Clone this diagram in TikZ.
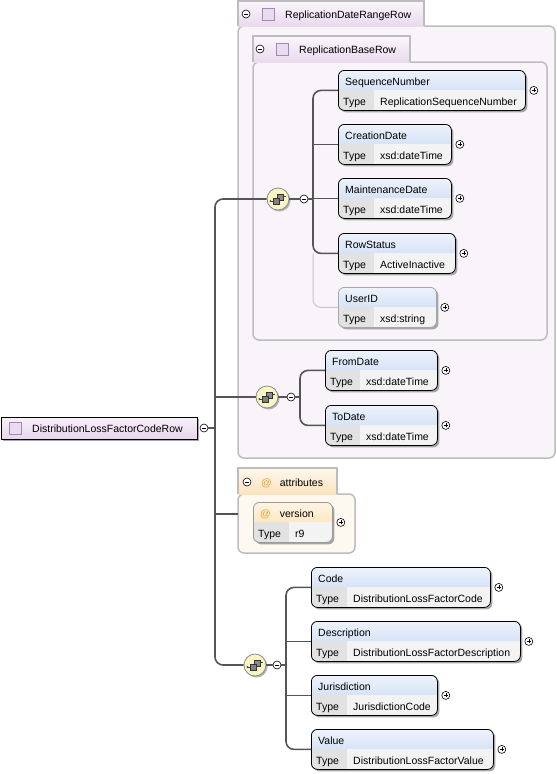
\documentclass[tikz,border=0pt]{standalone}
\usepackage{fontspec}
\setmainfont{Liberation Sans}
\usetikzlibrary{shadows}

\definecolor{linegray}{HTML}{555555}
\definecolor{hdtop}{HTML}{EEF3FC}
\definecolor{hdbot}{HTML}{BDD2F0}
\definecolor{typecell}{HTML}{E2E2E2}
\definecolor{typeval}{HTML}{F3F3F3}
\definecolor{compfill}{HTML}{F9F5C4}
\definecolor{grpfill}{HTML}{F8F4F9}
\definecolor{grptabtop}{HTML}{FBF6FB}
\definecolor{grptabbot}{HTML}{E9DAEE}
\definecolor{grpline}{HTML}{BDBDBD}
\definecolor{iconfill}{HTML}{EADCF0}
\definecolor{iconline}{HTML}{A586B5}
\definecolor{attfill}{HTML}{FDF9F0}
\definecolor{atttabtop}{HTML}{FFF8EC}
\definecolor{atttabbot}{HTML}{FBE3BF}
\definecolor{athdtop}{HTML}{FFF4E2}
\definecolor{athdbot}{HTML}{FCDCA8}
\definecolor{atorange}{HTML}{F0A030}
\definecolor{roottop}{HTML}{F8F1F9}
\definecolor{rootbot}{HTML}{E6D5EB}

\tikzset{
  lbl/.style={inner sep=0pt, anchor=base west, font=\fontsize{10.5}{12}\selectfont},
  conn/.style={draw=linegray, line width=1.6pt},
  optconn/.style={draw=black!22, line width=1pt},
  hd/.style={top color=hdtop, bottom color=hdbot},
  boxshadow/.style={drop shadow={shadow xshift=2pt, shadow yshift=-2pt, fill=black!35, opacity=1}},
  elembox/.style={rounded corners=6pt, minimum height=40pt, inner sep=0pt,
    anchor=north west, line width=0.8pt, boxshadow},
  pm/.style={circle, draw, fill=white, minimum size=8pt, inner sep=0pt, line width=0.6pt},
  plusc/.style={pm, path picture={
    \draw[line width=0.6pt] ([xshift=-2pt]path picture bounding box.center) -- ([xshift=2pt]path picture bounding box.center)
      ([yshift=-2pt]path picture bounding box.center) -- ([yshift=2pt]path picture bounding box.center);}},
  minusc/.style={pm, path picture={
    \draw[line width=0.6pt] ([xshift=-2pt]path picture bounding box.center) -- ([xshift=2pt]path picture bounding box.center);}},
  compo/.style={circle, draw=black!45, fill=compfill, minimum size=22pt, inner sep=0pt, line width=0.8pt,
    drop shadow={shadow xshift=1.5pt, shadow yshift=-1.5pt, fill=black!30, opacity=1},
    path picture={
      \begin{scope}[shift={(path picture bounding box.center)}, sharp corners]
        \draw[black!75, line width=0.7pt] (-7.5pt,-2pt) -- (-4pt,-2pt) (5pt,2.5pt) -- (7.5pt,2.5pt) -- (7.5pt,3.5pt);
        \fill[black!75] (-7.5pt,-2pt) circle (1pt);
        \filldraw[fill=black!45, draw=black!80, line width=0.6pt] (-1pt,-1.5pt) rectangle (5pt,4.5pt);
        \filldraw[fill=black!50, draw=black!80, line width=0.6pt] (-4.5pt,-5pt) rectangle (1.5pt,1pt);
      \end{scope}}},
  icon/.style={draw=iconline, fill=iconfill, minimum size=12pt, inner sep=0pt, line width=0.7pt},
  grpbox/.style={draw=grpline, fill=grpfill, line width=1.5pt, rounded corners=6pt},
  grptab/.style={top color=grptabtop, bottom color=grptabbot},
}

% element box: [border] name, top left, width, type cell width, label, type
\newcommand\xelem[7][black]{%
  \node[elembox, draw=#1, minimum width=#4pt,
    path picture={
      \shade[hd, sharp corners] (path picture bounding box.north west) rectangle ([yshift=-20pt]path picture bounding box.north east);
      \fill[typecell, sharp corners] ([yshift=-20pt]path picture bounding box.north west) rectangle ([xshift=#5pt]path picture bounding box.south west);
      \fill[typeval, sharp corners] ([xshift=#5pt,yshift=-20pt]path picture bounding box.north west) rectangle (path picture bounding box.south east);
    }] (#2) at #3 {};
  \node[lbl] at ([xshift=7pt,yshift=-15pt]#2.north west) {#6};
  \node[lbl] at ([xshift=5pt,yshift=-35.5pt]#2.north west) {Type};
  \node[lbl] at ([xshift=#5pt+6pt,yshift=-35.5pt]#2.north west) {#7};
  \node[plusc] (#2-p) at ([xshift=8pt]#2.east) {};
}

\begin{document}
\begin{tikzpicture}[x=1pt,y=-1pt]
  \useasboundingbox (0,0) rectangle (557,774);

  % ReplicationDateRangeRow
  \draw[grpbox] (238,26) rectangle (555,458);
  \shade[grptab] (238,1) rectangle (424,26);
  \draw[grpline, line width=1.5pt] (238,26) |- (424,1) -- (424,26);
  \node[minusc] (m-range) at (246,14) {};
  \node[icon] (i-range) at (268,14) {};
  \node[lbl] (t-range) at (285,18) {ReplicationDateRangeRow};

  % ReplicationBaseRow
  \draw[grpbox] (253,62) rectangle (547,340);
  \shade[grptab] (253,36) rectangle (410,62);
  \draw[grpline, line width=1.5pt] (253,62) |- (410,36) -- (410,62);
  \node[minusc] (m-base) at (260,49) {};
  \node[icon] (i-base) at (282,49) {};
  \node[lbl] (t-base) at (299,53) {ReplicationBaseRow};

  % attributes
  \draw[draw=grpline, fill=attfill, line width=1.5pt, rounded corners=6pt] (238,494) rectangle (355,553);
  \shade[top color=atttabtop, bottom color=atttabbot] (238,468) rectangle (337,494);
  \draw[grpline, line width=1.5pt] (238,494) |- (337,468) -- (337,494);
  \node[minusc] (m-attr) at (247,482) {};
  \node[lbl] (t-attr) at (261,486) {\color{atorange}@\hspace{8pt}\color{black}attributes};
  \coordinate (attr) at (238,514);

  % root
  \node[draw, line width=0.8pt, top color=roottop, bottom color=rootbot, boxshadow,
    minimum width=196pt, minimum height=22pt, inner sep=0pt, anchor=north west] (root) at (1,417) {};
  \node[icon] (i-root) at (15.5,428) {};
  \node[lbl] at (32,432) {DistributionLossFactorCodeRow};
  \node[minusc] (rootm) at (204,428) {};
  \coordinate (trunk) at (215,428);

  % compositors
  \node[compo] (comp1) at (278,199) {};
  \node[minusc] (m1) at (304,199) {};
  \coordinate (g1) at (313,199);
  \node[compo] (comp2) at (267,397) {};
  \node[minusc] (m2) at (291,397) {};
  \coordinate (g2) at (300,397);
  \node[compo] (comp3) at (255,665) {};
  \node[minusc] (m3) at (277,665) {};
  \coordinate (g3) at (286,665);

  % elements
  \xelem{seqno}{(338,70)}{187}{36}{SequenceNumber}{ReplicationSequenceNumber}
  \xelem{creat}{(338,124)}{113}{36}{CreationDate}{xsd:dateTime}
  \xelem{maint}{(338,178)}{113}{36}{MaintenanceDate}{xsd:dateTime}
  \xelem{rowstat}{(338,233)}{117}{36}{RowStatus}{ActiveInactive}
  \xelem[black!35]{userid}{(338,287)}{98}{36}{UserID}{xsd:string}
  \xelem{fromd}{(325,350)}{112}{35}{FromDate}{xsd:dateTime}
  \xelem{tod}{(325,405)}{112}{35}{ToDate}{xsd:dateTime}
  {\tikzset{hd/.style={top color=athdtop, bottom color=athdbot}}
  \xelem[black!40]{version}{(253,502)}{79}{36}{\color{atorange}@\hspace{9pt}\color{black}version}{r9}}
  \xelem{code}{(311,567)}{179}{36}{Code}{DistributionLossFactorCode}
  \xelem{desc}{(311,621)}{209}{36}{Description}{DistributionLossFactorDescription}
  \xelem{juris}{(311,675)}{126}{36}{Jurisdiction}{JurisdictionCode}
  \xelem{value}{(311,729)}{182}{36}{Value}{DistributionLossFactorValue}

  % connectors
  \draw[conn] (rootm.east) -- (trunk);
  \draw[conn, rounded corners=8pt] (comp1.west) -| (trunk) |- (comp3.west);
  \draw[conn] (comp2.west) -- (comp2.west -| trunk);
  \draw[conn] (attr) -- (attr -| trunk);

  \draw[conn] (comp1.east) -- (m1.west) (m1.east) -- (g1);
  \draw[conn, rounded corners=8pt] (seqno.west) -| (g1) |- (rowstat.west);
  \draw[conn] (creat.west) -- (creat.west -| g1);
  \draw[conn] (maint.west) -- (maint.west -| g1);
  \draw[optconn, rounded corners=8pt] (rowstat.west -| g1) |- (userid.west);

  \draw[conn] (comp2.east) -- (m2.west) (m2.east) -- (g2);
  \draw[conn, rounded corners=8pt] (fromd.west) -| (g2) |- (tod.west);

  \draw[conn] (comp3.east) -- (m3.west) (m3.east) -- (g3);
  \draw[conn, rounded corners=8pt] (code.west) -| (g3) |- (value.west);
  \draw[conn] (desc.west) -- (desc.west -| g3);
  \draw[conn] (juris.west) -- (juris.west -| g3);
\end{tikzpicture}
\end{document}
